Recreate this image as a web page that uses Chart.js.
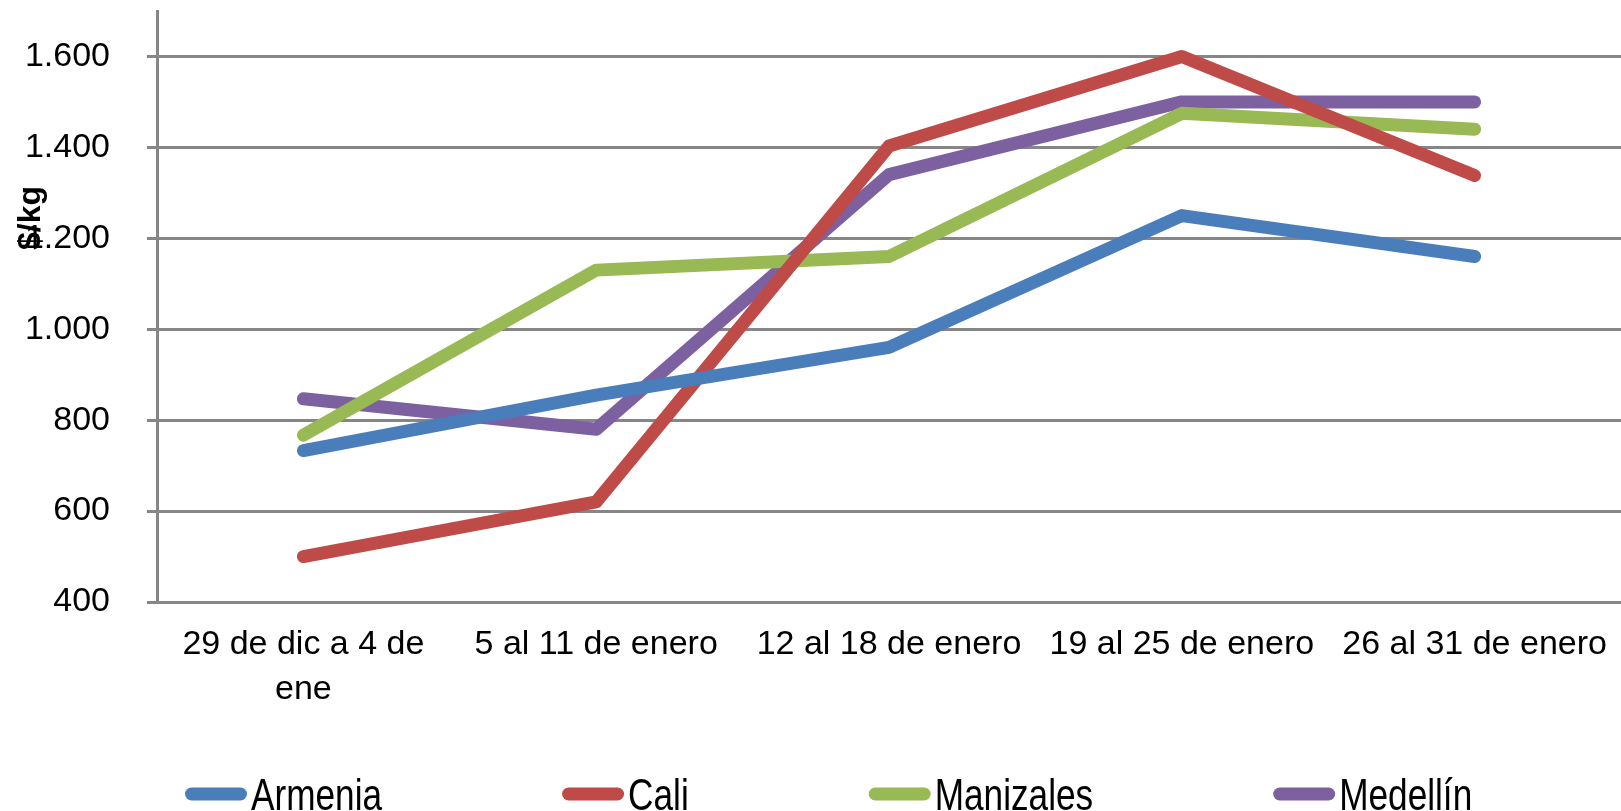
<!DOCTYPE html>
<html>
<head>
<meta charset="utf-8">
<script src="https://cdn.jsdelivr.net/npm/chart.js@4"></script>
<style>
  html, body { margin: 0; padding: 0; background: #fff; overflow: hidden; }
  #wrap { width: 1621px; height: 811px; position: relative; }
</style>
</head>
<body>
<div id="wrap"><canvas id="precios"></canvas></div>
<script>
var semanas = [['29 de dic a 4 de', 'ene'], '5 al 11 de enero', '12 al 18 de enero', '19 al 25 de enero', '26 al 31 de enero'];
var armenia = [733, 855, 960, 1250, 1160];
var cali = [500, 620, 1403, 1600, 1338];
var manizales = [767, 1130, 1160, 1475, 1440];
var medellin = [847, 780, 1340, 1500, 1500];
var tituloY = '$/kg';

var fuente = '"Liberation Sans", Arial, sans-serif';
var gris = '#868686';

function serie(nombre, datos, color) {
    return {
        label: nombre,
        data: datos,
        borderColor: color,
        backgroundColor: color,
        borderWidth: 13,
        borderCapStyle: 'round',
        borderJoinStyle: 'round',
        pointRadius: 0,
        pointHoverRadius: 0,
        tension: 0,
        fill: false
    };
}

// titulo del eje y y leyenda dibujados a mano (como en el original)
var extras = {
    id: 'extras',
    afterDraw: function(chart) {
        var ctx = chart.ctx;
        ctx.save();
        ctx.translate(31, 218);
        ctx.rotate(-Math.PI / 2);
        ctx.font = 'bold 32px ' + fuente;
        ctx.fillStyle = '#000';
        ctx.textAlign = 'center';
        ctx.textBaseline = 'middle';
        ctx.fillText(tituloY, 0, 0);
        ctx.restore();

        ctx.save();
        var x = 185;
        var escala = 0.8;
        ctx.font = '44px ' + fuente;
        ctx.textBaseline = 'alphabetic';
        ctx.textAlign = 'left';
        chart.data.datasets.forEach(function(ds) {
            ctx.strokeStyle = ds.borderColor;
            ctx.lineWidth = 13;
            ctx.lineCap = 'round';
            ctx.beginPath();
            ctx.moveTo(x + 6.5, 794);
            ctx.lineTo(x + 62 - 6.5, 794);
            ctx.stroke();
            var ancho = ctx.measureText(ds.label).width * escala;
            ctx.save();
            ctx.translate(x + 66, 810);
            ctx.scale(escala, 1);
            ctx.fillStyle = '#000';
            ctx.fillText(ds.label, 0, 0);
            ctx.restore();
            x = x + 66 + ancho + 180;
        });
        ctx.restore();
    }
};

var context = document.getElementById('precios').getContext('2d');
var myChart = new Chart(context, {
    type: 'line',
    data: {
        labels: semanas,
        datasets: [
            serie('Armenia', armenia, '#4A7EBB'),
            serie('Cali', cali, '#BE4B48'),
            serie('Manizales', manizales, '#98B954'),
            serie('Medellín', medellin, '#7D60A0')
        ]
    },
    options: {
        responsive: true,
        maintainAspectRatio: false,
        animation: false,
        layout: { padding: { top: 11, right: 0, bottom: 0, left: 0 } },
        plugins: {
            legend: { display: false },
            tooltip: { enabled: false }
        },
        scales: {
            x: {
                offset: true,
                grid: { display: false, drawTicks: false },
                border: { display: true, color: gris, width: 3 },
                ticks: {
                    color: '#000',
                    padding: 21,
                    maxRotation: 0,
                    autoSkip: false,
                    font: { family: fuente, size: 34, lineHeight: 1.3 }
                },
                afterFit: function(scale) {
                    scale.height = 209;
                    scale.paddingLeft = 0;
                    scale.paddingRight = 0;
                }
            },
            y: {
                min: 400,
                max: 1700,
                grid: { color: gris, lineWidth: 3, drawTicks: true, tickLength: 10, tickColor: gris },
                border: { display: true, color: gris, width: 3 },
                ticks: {
                    stepSize: 200,
                    color: '#000',
                    padding: 37,
                    font: { family: fuente, size: 34 },
                    callback: function(v) {
                        return String(v).replace(/\B(?=(\d{3})+(?!\d))/g, '.');
                    }
                },
                afterBuildTicks: function(scale) {
                    scale.ticks = scale.ticks.filter(function(t) { return t.value % 200 === 0; });
                },
                afterFit: function(scale) {
                    scale.width = 157;
                    scale.paddingTop = 0;
                    scale.paddingBottom = 0;
                }
            }
        }
    },
    plugins: [extras]
});
</script>
</body>
</html>
